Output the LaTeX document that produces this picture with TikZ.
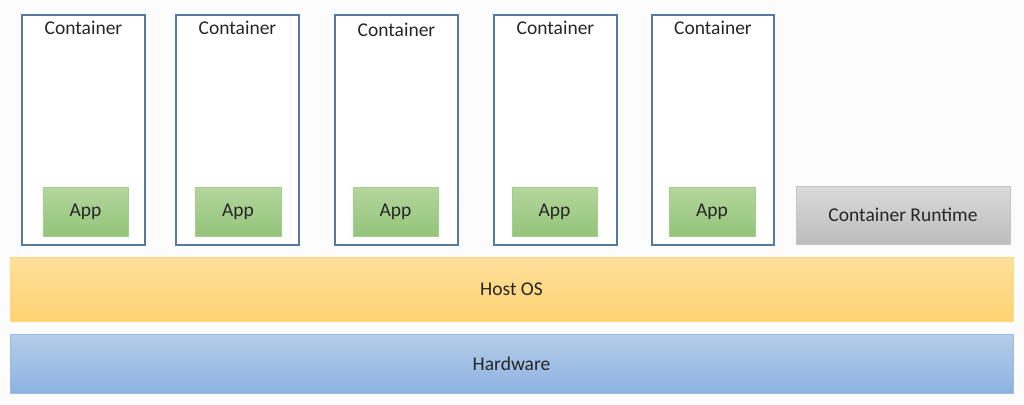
\documentclass[tikz,border=0pt]{standalone}
\usepackage{fontspec}
\setmainfont{Carlito}
\definecolor{txt}{HTML}{262626}
\definecolor{cborder}{HTML}{5679A2}
\definecolor{appTop}{HTML}{B3D69C}
\definecolor{appBot}{HTML}{93C47A}
\definecolor{appBorder}{HTML}{A4CC8A}
\definecolor{rtTop}{HTML}{DADADA}
\definecolor{rtBot}{HTML}{BDBDBD}
\definecolor{rtBorder}{HTML}{C4C4C4}
\definecolor{osTop}{HTML}{FFDF9C}
\definecolor{osBot}{HTML}{FFD372}
\definecolor{osBorder}{HTML}{FFDA7A}
\definecolor{hwTop}{HTML}{B5CDE8}
\definecolor{hwBot}{HTML}{8DB3E2}
\definecolor{hwBorder}{HTML}{9DBBDF}
\begin{document}
\begin{tikzpicture}[x=1pt,y=-1pt,
  every node/.style={text=txt,font=\fontsize{19.5}{22}\selectfont},
  container/.style={draw=cborder,line width=1.1pt,fill=white},
  appbox/.style={draw=appBorder,line width=0.8pt,top color=appTop,bottom color=appBot},
  rtbox/.style={draw=rtBorder,line width=0.8pt,top color=rtTop,bottom color=rtBot},
  osbox/.style={draw=osBorder,line width=0.8pt,top color=osTop,bottom color=osBot},
  hwbox/.style={draw=hwBorder,line width=0.8pt,top color=hwTop,bottom color=hwBot}]
\fill[white!97!black!40!white] (0,0) rectangle (1024,404);
\useasboundingbox (0,0) rectangle (1024,404);
% containers
\foreach \i/\xl/\xr/\ty in {1/22/145/28, 2/176/299/28, 3/335/458/30, 4/494/617/28, 5/652/774/28}{
  \draw[container] (\xl,15) rectangle (\xr,245);
  \node (c\i) at ({(\xl+\xr)/2},\ty) {Container};
}
% apps
\foreach \i/\xl/\xr in {1/43/128, 2/195/281, 3/353/438, 4/512/597, 5/669/755}{
  \node[appbox,minimum width={(\xr-\xl)*1pt},minimum height=49pt,inner sep=0pt] (a\i) at ({(\xl+\xr)/2},212) {App};
}
\node[rtbox,minimum width=214pt,minimum height=58pt,inner sep=0pt] (rt) at (903,215) {Container Runtime};
\node[osbox,minimum width=1003pt,minimum height=64pt,inner sep=0pt] (os) at (511.5,289) {Host OS};
\node[hwbox,minimum width=1003pt,minimum height=59pt,inner sep=0pt] (hw) at (511.5,363.5) {Hardware};
\end{tikzpicture}
\end{document}
